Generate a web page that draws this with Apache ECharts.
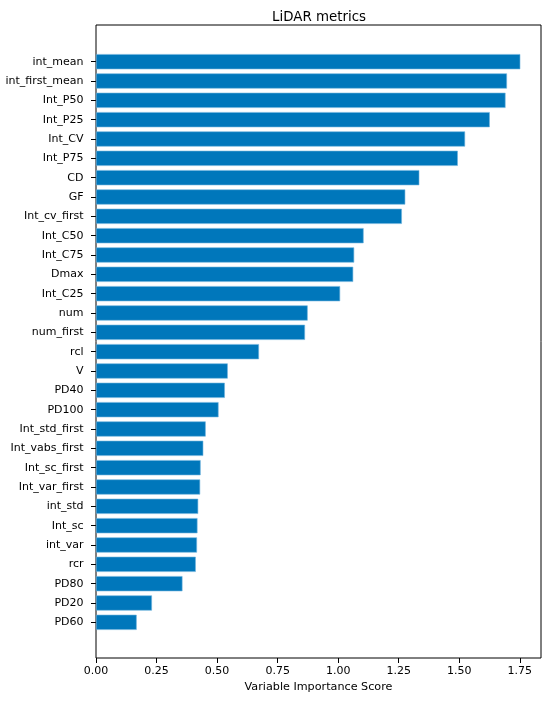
<!DOCTYPE html>
<html>
<head>
<meta charset="utf-8">
<script src="https://cdn.jsdelivr.net/npm/echarts@6/dist/echarts.min.js"></script>
<style>
html,body{margin:0;padding:0;background:#fff;}
#chart{width:550px;height:702px;}
</style>
</head>
<body>
<div id="chart"></div>
<script>
const categories = ["int_mean","int_first_mean","Int_P50","Int_P25","Int_CV","Int_P75","CD","GF","Int_cv_first","Int_C50","Int_C75","Dmax","Int_C25","num","num_first","rcl","V","PD40","PD100","Int_std_first","Int_vabs_first","Int_sc_first","Int_var_first","int_std","Int_sc","int_var","rcr","PD80","PD20","PD60"];
const importance = [1.752,1.697,1.691,1.626,1.524,1.494,1.335,1.277,1.263,1.105,1.066,1.062,1.008,0.874,0.863,0.673,0.544,0.532,0.506,0.453,0.443,0.432,0.430,0.422,0.419,0.417,0.412,0.357,0.231,0.168];
const xTicks = [0,0.25,0.5,0.75,1.0,1.25,1.5,1.75];
const xMax = 1.8375;

const FONT = "DejaVu Sans";
const chart = echarts.init(document.getElementById('chart'), null, {renderer:'canvas'});
chart.setOption({
  backgroundColor:'#fff',
  animation:false,
  textStyle:{fontFamily:FONT},
  title:{
    text:'LiDAR metrics',
    left:314, top:6, textAlign:'center',
    textStyle:{fontFamily:FONT,fontSize:13.4,fontWeight:'normal',color:'#000'}
  },
  grid:[
    {left:96,right:9,top:52,bottom:70,show:false,outerBoundsMode:'none',containLabel:false},
    {left:96,right:9,top:25,bottom:44,show:true,borderColor:'#000',borderWidth:1,backgroundColor:'transparent',outerBoundsMode:'none',containLabel:false}
  ],
  xAxis:[
    {gridIndex:0,type:'value',min:0,max:xMax,show:false},
    {gridIndex:1,type:'value',min:0,max:xMax,
     axisLine:{show:false},
     splitLine:{show:false},
     axisTick:{show:true,length:5,lineStyle:{color:'#000'},customValues:xTicks},
     axisLabel:{color:'#000',fontSize:11,margin:8,fontFamily:FONT,customValues:xTicks,formatter:v=>v.toFixed(2)},
     name:'Variable Importance Score',nameLocation:'middle',nameGap:23.5,
     nameTextStyle:{color:'#000',fontSize:11.2,fontFamily:FONT}
    }
  ],
  yAxis:[
    {gridIndex:0,type:'category',data:categories,inverse:true,
     axisLine:{show:false},
     axisTick:{show:true,length:5,alignWithLabel:true,lineStyle:{color:'#000'}},
     axisLabel:{color:'#000',fontSize:11,margin:12.5,fontFamily:FONT},
     splitLine:{show:false}
    },
    {gridIndex:1,type:'value',min:0,max:1,show:false}
  ],
  series:[{
    type:'bar',xAxisIndex:0,yAxisIndex:0,
    data:importance,
    barWidth:'78.5%',
    itemStyle:{color:'#0077BB',borderColor:'#6fb3de',borderWidth:0.6},
    silent:true
  }]
});
</script>
</body>
</html>
